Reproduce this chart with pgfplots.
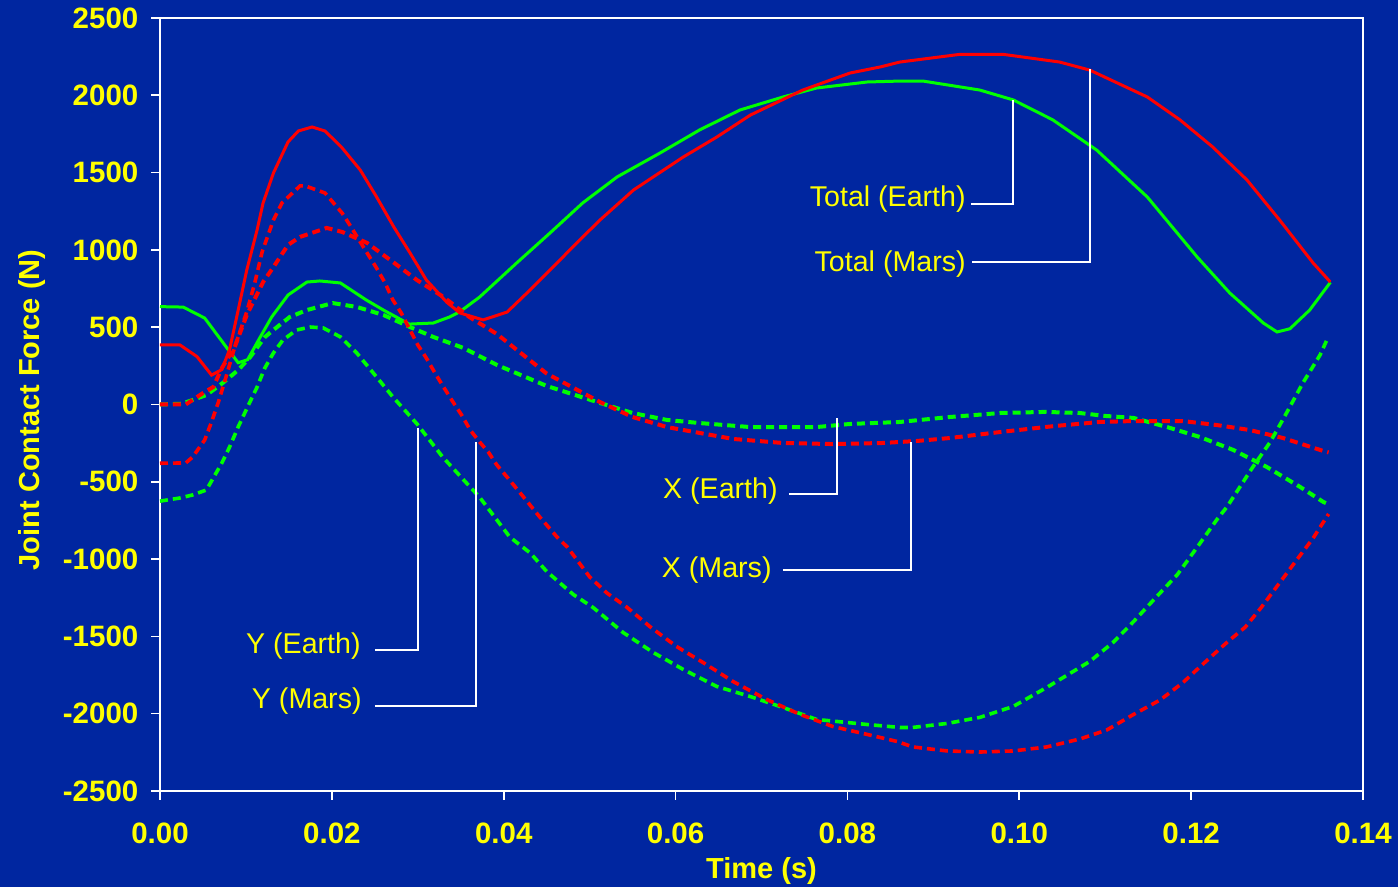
\documentclass[border=0pt]{standalone}
\usepackage{fontspec}
\setmainfont{Liberation Sans}
\usepackage{pgfplots}
\usepackage{pgfplotstable}
\pgfplotsset{compat=1.18}
\definecolor{bg}{RGB}{0,38,160}
\definecolor{lgreen}{RGB}{0,255,0}
\definecolor{lred}{RGB}{255,0,0}
\definecolor{lyellow}{RGB}{255,255,0}

\pgfplotstableread{
t F
0 633
0.0027 630
0.0052 559
0.0078 365
0.0091 270
0.0102 290
0.0115 420
0.013 566
0.0149 708
0.0171 792
0.0186 799
0.021 786
0.024 676
0.026 611
0.029 520
0.0318 527
0.0337 566
0.0349 600
0.0372 695
0.0415 915
0.0454 1110
0.0492 1304
0.0532 1472
0.0582 1627
0.0628 1776
0.0675 1905
0.0725 1989
0.0764 2047
0.0823 2086
0.0861 2092
0.0888 2092
0.0954 2034
0.0993 1970
0.1039 1841
0.109 1646
0.1149 1342
0.1207 954
0.1245 721
0.1284 527
0.1300 469
0.1315 490
0.1338 611
0.1362 790
}\totalearth

\pgfplotstableread{
t F
0 386
0.0023 386
0.0043 310
0.006 190
0.0072 226
0.0081 356
0.0091 611
0.0101 870
0.0113 1129
0.012 1304
0.0132 1497
0.0149 1698
0.0161 1769
0.0177 1795
0.0192 1769
0.0211 1666
0.0233 1517
0.0252 1343
0.0272 1149
0.0291 980
0.031 805
0.0334 660
0.0349 592
0.0376 547
0.0404 598
0.0427 721
0.0454 870
0.0485 1045
0.0512 1193
0.0551 1387
0.0609 1601
0.0648 1730
0.0687 1872
0.0748 2034
0.0803 2144
0.0838 2183
0.0861 2215
0.0931 2265
0.0981 2265
0.1047 2215
0.1082 2163
0.1149 1989
0.1187 1841
0.1225 1666
0.1265 1452
0.1303 1193
0.1342 915
0.1362 792
}\totalmars

\pgfplotstableread{
t F
0 0
0.0025 5
0.0038 29
0.0054 61
0.0073 139
0.0091 223
0.0105 307
0.0122 436
0.0132 482
0.0151 566
0.0171 611
0.0201 656
0.0229 631
0.026 579
0.0291 501
0.0318 437
0.0353 366
0.0392 256
0.045 120
0.0512 10
0.055 -55
0.059 -100
0.0628 -120
0.0687 -146
0.0764 -146
0.0803 -126
0.0861 -113
0.0919 -81
0.0978 -55
0.103 -48
0.107 -55
0.110 -74
0.1133 -87
0.1172 -146
0.121 -210
0.1249 -294
0.1288 -404
0.1327 -534
0.1354 -631
0.136 -645
}\xearth

\pgfplotstableread{
t F
0 0
0.003 0
0.005 74
0.0062 113
0.0072 236
0.0087 372
0.0101 579
0.012 792
0.0132 889
0.0149 1032
0.0163 1084
0.0194 1142
0.0212 1116
0.0241 1045
0.0271 922
0.0299 805
0.033 695
0.036 566
0.0392 456
0.045 200
0.0512 16
0.055 -81
0.059 -146
0.0628 -184
0.0667 -223
0.0725 -249
0.0783 -256
0.0841 -249
0.0881 -236
0.0919 -217
0.0978 -178
0.104 -140
0.1094 -113
0.1133 -107
0.119 -107
0.123 -133
0.1268 -165
0.1307 -217
0.1354 -301
0.136 -310
}\xmars

\pgfplotstableread{
t F
0 -625
0.0023 -605
0.0038 -585
0.0054 -553
0.0072 -378
0.0081 -275
0.0091 -145
0.0103 -3
0.0113 113
0.0122 236
0.0132 333
0.0143 417
0.0159 482
0.0175 501
0.019 495
0.021 437
0.0229 333
0.0252 178
0.0271 49
0.0299 -125
0.0329 -340
0.0361 -534
0.0372 -600
0.0407 -857
0.0431 -961
0.045 -1080
0.0481 -1229
0.0504 -1313
0.0539 -1475
0.0574 -1604
0.0609 -1714
0.0648 -1824
0.0687 -1889
0.0725 -1960
0.0764 -2037
0.0823 -2070
0.0861 -2089
0.0876 -2089
0.0916 -2063
0.0954 -2024
0.0993 -1953
0.1032 -1830
0.1082 -1662
0.1109 -1540
0.1132 -1410
0.116 -1242
0.1184 -1100
0.121 -900
0.123 -744
0.1242 -660
0.1271 -411
0.1292 -243
0.1311 -55
0.133 139
0.135 320
0.1359 430
}\yearth

\pgfplotstableread{
t F
0 -380
0.003 -378
0.0038 -340
0.0052 -230
0.006 -113
0.0068 16
0.0078 200
0.0087 372
0.0101 600
0.011 780
0.0119 990
0.0132 1193
0.0142 1304
0.0163 1414
0.0169 1414
0.0192 1368
0.0212 1238
0.0221 1160
0.0241 980
0.0252 883
0.0262 786
0.0271 676
0.0281 590
0.0291 482
0.03 385
0.031 300
0.032 204
0.033 113
0.0341 16
0.0351 -68
0.0361 -165
0.0372 -243
0.0382 -307
0.0392 -391
0.0404 -470
0.0423 -598
0.0442 -728
0.0462 -857
0.0474 -922
0.05 -1115
0.052 -1219
0.0543 -1310
0.057 -1436
0.0601 -1565
0.0632 -1669
0.0667 -1792
0.0706 -1908
0.0745 -2005
0.0783 -2083
0.0823 -2134
0.0858 -2180
0.0876 -2215
0.0916 -2241
0.0954 -2248
0.0993 -2241
0.1032 -2215
0.1071 -2163
0.1102 -2105
0.1132 -2008
0.1164 -1911
0.119 -1801
0.121 -1698
0.1242 -1537
0.1263 -1440
0.1282 -1310
0.1301 -1168
0.1321 -1019
0.1342 -864
0.136 -708
}\ymars

\begin{document}
\begin{tikzpicture}
\fill[bg] (-80pt,-48pt) rectangle (619pt,395.5pt);
\useasboundingbox (-80pt,-48pt) rectangle (619pt,395.5pt);
\begin{axis}[
  at={(0,0)}, anchor=south west,
  scale only axis, width=601.5pt, height=386.5pt,
  xmin=0, xmax=0.14, ymin=-2500, ymax=2500,
  axis line style={white, line width=0.8pt},
  tick style={white, line width=0.8pt},
  tick align=outside,
  major tick length=4.3pt,
  xtick pos=lower, ytick pos=left,
  xtick={0,0.02,0.04,0.06,0.08,0.1,0.12,0.14},
  xticklabels={0.00,0.02,0.04,0.06,0.08,0.10,0.12,0.14},
  ytick={-2500,-2000,-1500,-1000,-500,0,500,1000,1500,2000,2500},
  yticklabels={-2500,-2000,-1500,-1000,-500,0,500,1000,1500,2000,2500},
  ticklabel style={font=\bfseries\fontsize{14.75}{17}\selectfont, text=lyellow},
  xticklabel style={yshift=-8pt},
  yticklabel style={xshift=-3pt},
  xlabel={Time (s)}, ylabel={Joint Contact Force (N)},
  label style={font=\bfseries\fontsize{14.5}{17}\selectfont, text=lyellow},
  xlabel style={at={(axis description cs:0.5,-0.1035)}, anchor=center},
  ylabel style={at={(axis description cs:-0.1064,0.493)}, anchor=center},
  clip=false,
]
\addplot[lgreen, line width=1.5pt] table[x=t,y=F] {\totalearth};
\addplot[lred, line width=1.5pt] table[x=t,y=F] {\totalmars};
\addplot[lgreen, line width=2pt, dash pattern=on 4pt off 2.5pt] table[x=t,y=F] {\xearth};
\addplot[lred, line width=2pt, dash pattern=on 4pt off 2.5pt] table[x=t,y=F] {\xmars};
\addplot[lgreen, line width=1.8pt, dash pattern=on 4pt off 2.5pt] table[x=t,y=F] {\yearth};
\addplot[lred, line width=1.8pt, dash pattern=on 4pt off 2.5pt] table[x=t,y=F] {\ymars};

\draw[white, line width=0.8pt] (axis cs:0.09438,1297) -- (axis cs:0.09927,1297) -- (axis cs:0.09927,1970);
\draw[white, line width=0.8pt] (axis cs:0.0945,922) -- (axis cs:0.10823,922) -- (axis cs:0.10823,2170);
\draw[white, line width=0.8pt] (axis cs:0.0732,-579) -- (axis cs:0.07878,-579) -- (axis cs:0.07878,-87);
\draw[white, line width=0.8pt] (axis cs:0.0725,-1070) -- (axis cs:0.0874,-1070) -- (axis cs:0.0874,-243);
\draw[white, line width=0.8pt] (axis cs:0.02502,-1588) -- (axis cs:0.03002,-1588) -- (axis cs:0.03002,-149);
\draw[white, line width=0.8pt] (axis cs:0.02502,-1950) -- (axis cs:0.03677,-1950) -- (axis cs:0.03677,-243);

\tikzset{lab/.style={anchor=east, text=lyellow, font=\fontsize{14.3}{17}\selectfont, inner sep=0pt}}
\node[lab] at (axis cs:0.0938,1329) {Total (Earth)};
\node[lab] at (axis cs:0.0938,908) {Total (Mars)};
\node[lab] at (axis cs:0.07192,-560) {X (Earth)};
\node[lab] at (axis cs:0.07122,-1070) {X (Mars)};
\node[lab] at (axis cs:0.02339,-1562) {Y (Earth)};
\node[lab] at (axis cs:0.02351,-1918) {Y (Mars)};
\end{axis}
\end{tikzpicture}
\end{document}
